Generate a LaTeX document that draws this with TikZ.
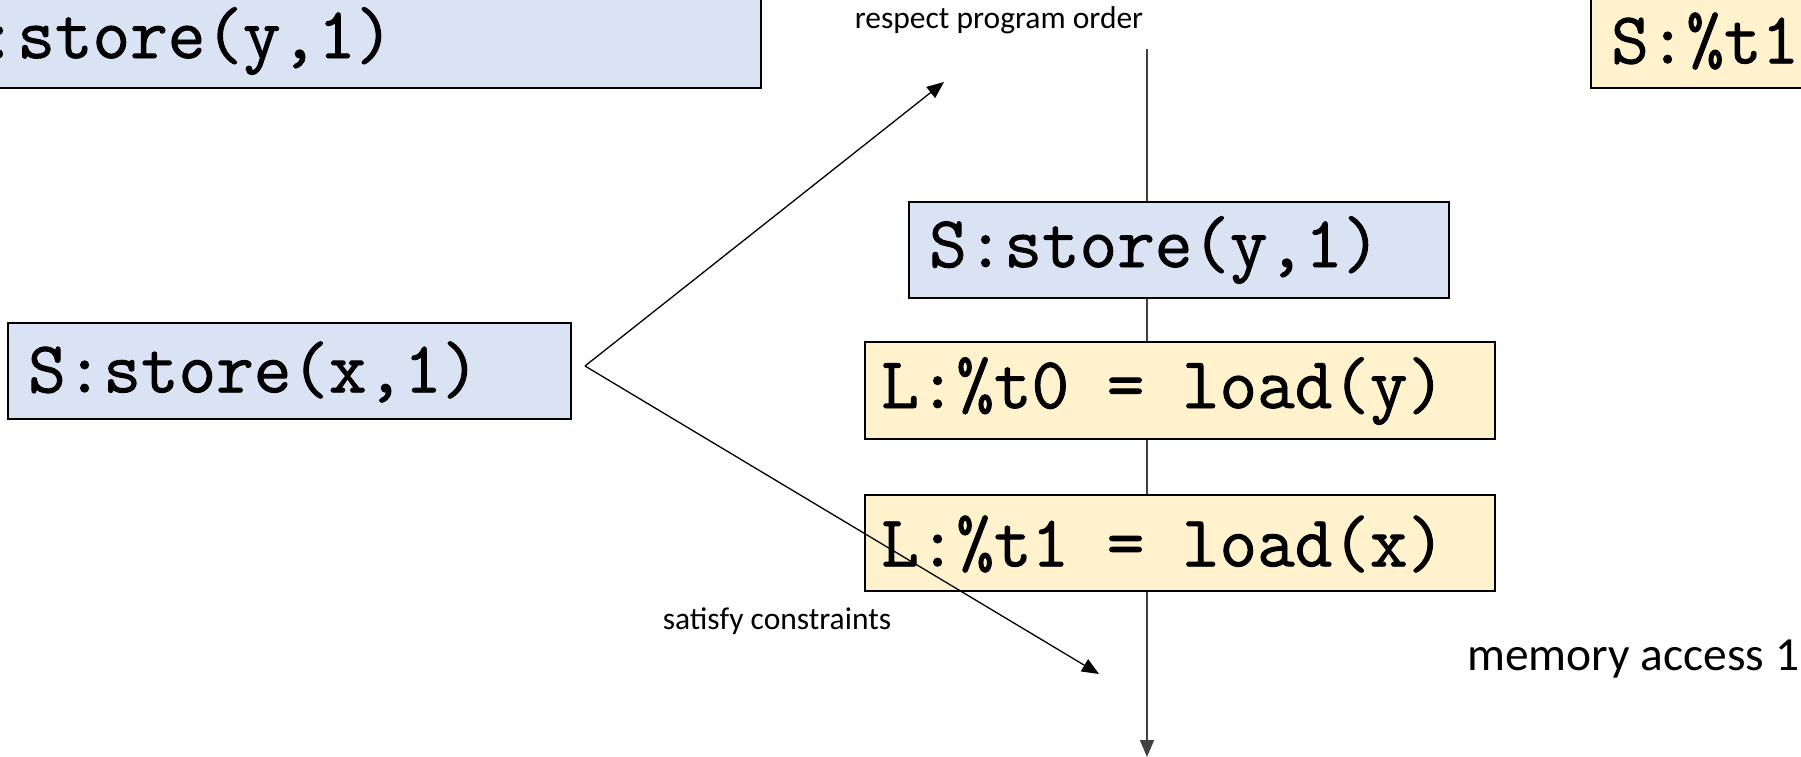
\documentclass[tikz,border=0pt]{standalone}
\usepackage{fontspec}
\setmainfont{Carlito}
\newfontfamily\monof[FakeBold=1.2]{Latin Modern Mono}
\usetikzlibrary{arrows.meta}
\definecolor{boxblue}{HTML}{DAE3F3}
\definecolor{boxyellow}{HTML}{FFF2CC}
\definecolor{lineg}{HTML}{404040}
\tikzset{
  opbox/.style={draw=black, line width=2pt, rectangle, inner sep=0pt, anchor=north west},
  bluebox/.style={opbox, fill=boxblue},
  yellowbox/.style={opbox, fill=boxyellow},
  monotext/.style={font=\monof\fontsize{73}{72}\selectfont, inner sep=0pt, anchor=west},
  labeltext/.style={font=\fontsize{31.5}{32}\selectfont, inner sep=0pt},
  bigtext/.style={font=\fontsize{47.5}{48}\selectfont, inner sep=0pt, anchor=west},
  arr/.style={line width=1.3pt, -{Triangle[length=17pt,width=14pt]}},
  timeline/.style={draw=lineg, line width=1.6pt, -{Triangle[length=17pt,width=14pt]}}
}
\begin{document}
\begin{tikzpicture}[x=1pt,y=-1pt]
\useasboundingbox (0,0) rectangle (1801,757);
\clip (0,0) rectangle (1801,757);
\fill[white] (0,0) rectangle (1801,757);
% timeline
\coordinate (ttop) at (1147,49);
\coordinate (tbot) at (1147,757);
\draw[timeline] (ttop) -- (tbot);
% boxes
\node[bluebox, minimum width=1060pt, minimum height=97pt] (tl) at (-300,-10) {};
\node[monotext] (tltext) at (-58,41) {S:store(y,1)};
\node[yellowbox, minimum width=320pt, minimum height=97pt] (tr) at (1590,-10) {};
\node[monotext] (trtext) at (1611,41) {S:\%t1};
\node[bluebox, minimum width=563pt, minimum height=96pt] (sx) at (7,322) {};
\node[monotext] (sxtext) at (28,372) {S:store(x,1)};
\node[bluebox, minimum width=540pt, minimum height=96pt] (sy) at (908,201) {};
\node[monotext] (sytext) at (929,250) {S:store(y,1)};
\node[yellowbox, minimum width=630pt, minimum height=97pt] (l0) at (864,341) {};
\node[monotext] (l0text) at (881,391) {L:\%t0 = load(y)};
\node[yellowbox, minimum width=630pt, minimum height=96pt] (l1) at (864,494) {};
\node[monotext] (l1text) at (881,544) {L:\%t1 = load(x)};
% fork arrows
\coordinate (fork) at (585,366);
\coordinate (upend) at (944,82);
\coordinate (downend) at (1099,674);
\draw[arr] (fork) -- (upend);
\draw[arr] (fork) -- (downend);
% labels
\node[labeltext] (lbl1) at (999,20) {respect program order};
\node[labeltext] (lbl2) at (777,621) {satisfy constraints};
\node[bigtext] (lbl3) at (1467,659) {memory access 1};
\end{tikzpicture}
\end{document}
